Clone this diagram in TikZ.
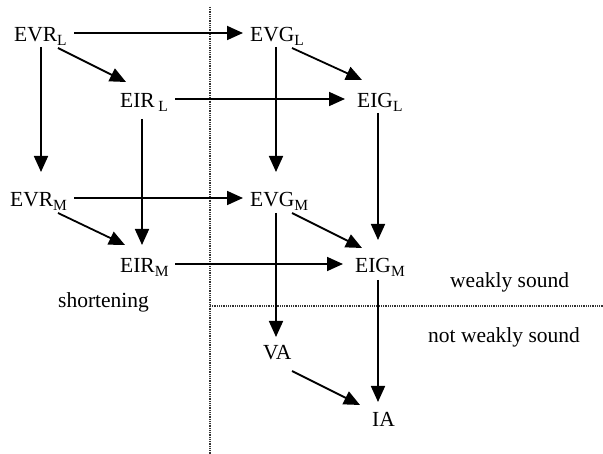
\documentclass[tikz,border=0pt]{standalone}
\usepackage{fontspec}
\setmainfont{Liberation Serif}
\usetikzlibrary{arrows.meta}
\newcommand{\sbx}[1]{\raisebox{-4pt}{\fontsize{15.5}{15.5}\selectfont #1}}
\begin{document}
\begin{tikzpicture}[x=1pt,y=-1pt,
  lbl/.style={anchor=base west,inner sep=0pt,font=\fontsize{21.5}{25}\selectfont},
  arr/.style={line width=1.8pt,-{Triangle[length=16pt,width=14pt]}},
  sepline/.style={line width=1.4pt,black!80,dash pattern=on 1pt off 0.8pt}]
\useasboundingbox (0,0) rectangle (603,454);
% separators
\coordinate (vtop) at (210,7);
\coordinate (vbot) at (210,454);
\coordinate (hleft) at (210,306);
\coordinate (hright) at (603,306);
\draw[sepline] (vtop) -- (vbot);
\draw[sepline] (hleft) -- (hright);
% nodes
\node[lbl] (EVRL) at (14,42) {EVR\sbx{L}};
\node[lbl] (EVGL) at (250,42) {EVG\sbx{L}};
\node[lbl] (EIRL) at (120,108) {EIR\,\sbx{L}};
\node[lbl] (EIGL) at (357,108) {EIG\sbx{L}};
\node[lbl] (EVRM) at (10,207) {EVR\sbx{M}};
\node[lbl] (EVGM) at (250,207) {EVG\sbx{M}};
\node[lbl] (EIRM) at (120,273) {EIR\sbx{M}};
\node[lbl] (EIGM) at (355,273) {EIG\sbx{M}};
\node[lbl] (VA) at (263,360) {VA};
\node[lbl] (IA) at (372,427) {IA};
\node[lbl] (short) at (58,308) {shortening};
\node[lbl] (ws) at (450,288) {weakly sound};
\node[lbl] (nws) at (428,343) {not weakly sound};
% connectors
\draw[arr] ([xshift=60pt,yshift=9pt]EVRL.base west) -- ([xshift=-7pt,yshift=9pt]EVGL.base west);
\draw[arr] ([xshift=44pt,yshift=-6pt]EVRL.base west) -- ([xshift=6pt,yshift=26pt]EIRL.base west);
\draw[arr] ([xshift=27pt,yshift=-5pt]EVRL.base west) -- ([xshift=31pt,yshift=35pt]EVRM.base west);
\draw[arr] ([xshift=42pt,yshift=-6pt]EVGL.base west) -- ([xshift=5pt,yshift=28pt]EIGL.base west);
\draw[arr] ([xshift=26pt,yshift=-5pt]EVGL.base west) -- ([xshift=26pt,yshift=35pt]EVGM.base west);
\draw[arr] ([xshift=55pt,yshift=9pt]EIRL.base west) -- ([xshift=-12pt,yshift=9pt]EIGL.base west);
\draw[arr] ([xshift=22pt,yshift=-11pt]EIRL.base west) -- ([xshift=22pt,yshift=28pt]EIRM.base west);
\draw[arr] ([xshift=21pt,yshift=-5pt]EIGL.base west) -- ([xshift=23pt,yshift=33pt]EIGM.base west);
\draw[arr] ([xshift=64pt,yshift=9pt]EVRM.base west) -- ([xshift=-7pt,yshift=9pt]EVGM.base west);
\draw[arr] ([xshift=48pt,yshift=-6pt]EVRM.base west) -- ([xshift=5pt,yshift=28pt]EIRM.base west);
\draw[arr] ([xshift=55pt,yshift=9pt]EIRM.base west) -- ([xshift=-12pt,yshift=9pt]EIGM.base west);
\draw[arr] ([xshift=42pt,yshift=-6pt]EVGM.base west) -- ([xshift=7pt,yshift=25pt]EIGM.base west);
\draw[arr] ([xshift=26pt,yshift=-6pt]EVGM.base west) -- ([xshift=13pt,yshift=23pt]VA.base west);
\draw[arr] ([xshift=23pt,yshift=-7pt]EIGM.base west) -- ([xshift=6pt,yshift=25pt]IA.base west);
\draw[arr] ([xshift=29pt,yshift=-11pt]VA.base west) -- ([xshift=-12pt,yshift=22pt]IA.base west);
\end{tikzpicture}
\end{document}
